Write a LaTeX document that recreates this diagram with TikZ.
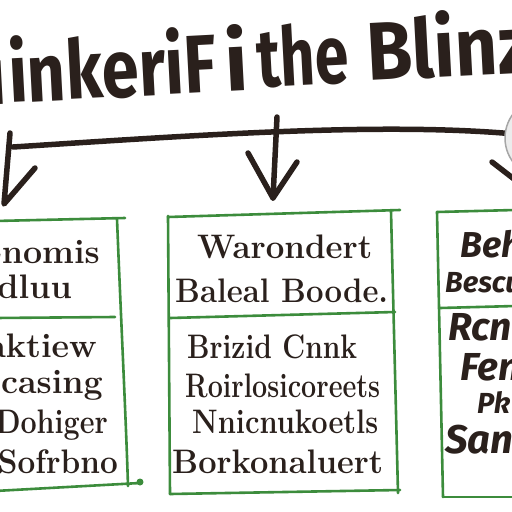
\documentclass[tikz,border=0pt]{standalone}
\usepackage{fontspec}
\newfontfamily\titlefont{Fira Sans}
\newfontfamily\rsans{Fira Sans}
\definecolor{ink}{HTML}{2A201C}
\definecolor{grn}{HTML}{3C8C3C}
\newcommand{\fitto}[2]{\resizebox{#1}{\height}{#2}}
\begin{document}
\begin{tikzpicture}[x=1pt,y=-1pt,
  ttl/.style={inner sep=0,text=ink,font=\titlefont\bfseries\fontsize{82}{88}\selectfont,rotate=3,anchor=base west},
  body/.style={inner sep=0,text=ink,font=\bfseries\fontsize{34}{40}\selectfont,anchor=base west},
  rbody/.style={inner sep=0,text=ink,font=\rsans\bfseries\itshape\fontsize{36}{40}\selectfont,anchor=base west},
  frame/.style={draw=grn,line width=2.6pt,line cap=round},
  arr/.style={draw=ink,line width=5.5pt,line cap=round,line join=round}]
\useasboundingbox (0,0) rectangle (512,512);
\clip (0,0) rectangle (512,512);
\fill[white] (0,0) rectangle (512,512);

% title
\node[ttl,anchor=base east] (t0) at (9,104) {u};
\node[ttl] (t1) at (10,103) {\fitto{208pt}{inkeriF}};
\node[ttl] (t2) at (226,92) {i};
\node[ttl] (t3) at (258,88) {\fitto{92pt}{the}};
\node[ttl] (t4) at (368,81) {\fitto{165pt}{Blinz}};

% connectors
\coordinate (hl) at (13,147);
\coordinate (hr) at (515,134);
\draw[arr] (hl) .. controls (200,135) and (380,122) .. (hr);
\coordinate (lt) at (10,133);
\coordinate (ltip) at (4,204);
\coordinate (lb) at (35,168);
\draw[arr] (lt) -- (ltip) -- (lb);
\coordinate (mt) at (277,117);
\coordinate (mtip) at (273,198);
\coordinate (mb1) at (248,153);
\coordinate (mb2) at (297,162);
\draw[arr] (mt) -- (mtip);
\draw[arr] (mb1) -- (mtip) -- (mb2);
\coordinate (rb1) at (492,162);
\coordinate (rb2) at (514,179);
\draw[arr] (rb1) -- (rb2);
\node[circle,minimum size=80pt,inner sep=0,draw=gray!70,line width=1.5pt,fill=gray!15] (lens) at (545,138) {};

% left box
\draw[frame] (-5,221) -- (125,218);
\draw[frame] (117,219) .. controls (121,320) and (126,420) .. (128,486);
\draw[frame] (-5,318) -- (115,317);
\draw[frame] (-5,491) -- (140,483);
\fill[grn] (140,482) circle (3.5pt);
\node[body,anchor=base east] (l1) at (100,263) {Enomis};
\node[body,anchor=base east] (l2) at (72,298) {Endluu};
\node[body,anchor=base east] (l3) at (97,357) {Raktiew};
\node[body,anchor=base east] (l4) at (103,393) {Peicasing};
\node[body,anchor=base east] (l5) at (108,433) {\fitto{112pt}{Dohiger}};
\node[body,anchor=base east] (l6) at (118,473) {\fitto{120pt}{Sofrbno}};

% middle box
\draw[frame] (168,217) -- (400,210);
\draw[frame] (168,216) -- (170,494);
\draw[frame] (391,211) -- (398,493);
\draw[frame] (170,318) -- (395,312);
\draw[frame] (170,494) -- (400,490);
\node[body] (m1) at (197,258) {\fitto{175pt}{Warondert}};
\node[body] (m2) at (175,302) {\fitto{213pt}{Baleal Boode.}};
\node[body] (m3) at (187,358) {\fitto{170pt}{Brizid Cnnk}};
\node[body] (m4) at (185,397) {\fitto{195pt}{Roirlosicoreets}};
\node[body] (m5) at (192,433) {\fitto{186pt}{Nnicnukoetls}};
\node[body] (m6) at (172,473) {\fitto{211pt}{Borkonaluert}};

% right box
\draw[frame] (437,212) -- (515,210);
\draw[frame] (437,212) -- (443,497);
\draw[frame] (440,308) -- (515,306);
\draw[frame] (443,497) -- (515,497);
\node[rbody] (r1) at (460,257) {Beh};
\node[rbody,font=\rsans\bfseries\itshape\fontsize{29}{34}\selectfont] (r2) at (445,292) {Bescu};
\node[rbody,font=\rsans\bfseries\itshape\fontsize{39}{44}\selectfont] (r3) at (448,340) {Rcnl};
\node[rbody,font=\rsans\bfseries\itshape\fontsize{39}{44}\selectfont] (r4) at (460,380) {Fen};
\node[rbody,font=\rsans\bfseries\itshape\fontsize{29}{34}\selectfont] (r5) at (477,413) {Pk};
\node[rbody,font=\rsans\bfseries\itshape\fontsize{40}{44}\selectfont] (r6) at (445,453) {San};
\end{tikzpicture}
\end{document}
